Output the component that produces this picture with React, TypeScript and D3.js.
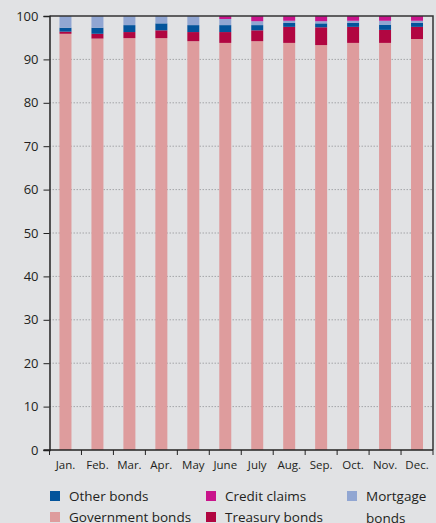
import React, { useEffect, useRef } from "react";
import * as d3 from "d3";

const months = ["Jan.", "Feb.", "Mar.", "Apr.", "May", "June", "July", "Aug.", "Sep.", "Oct.", "Nov.", "Dec."];
const governmentBonds = [95.9, 94.8, 94.9, 94.9, 94.2, 93.8, 94.2, 93.8, 93.3, 93.8, 93.8, 94.7];
const treasuryBonds = [0.5, 1.1, 1.4, 1.8, 2.1, 2.5, 2.5, 3.7, 4.1, 3.7, 3.0, 2.8];
const otherBonds = [0.9, 1.4, 1.6, 1.6, 1.6, 1.6, 1.2, 0.9, 0.9, 0.9, 1.2, 0.9];
const mortgageBonds = [2.7, 2.7, 2.1, 1.7, 2.1, 1.4, 0.9, 0.5, 0.5, 0.5, 0.9, 0.5];
const creditClaims = [0, 0, 0, 0, 0, 0.7, 1.2, 1.1, 1.2, 1.1, 1.1, 1.1];
const yTicks = [0, 10, 20, 30, 40, 50, 60, 70, 80, 90, 100];

const series = [
  { key: "gov", name: "Government bonds", values: governmentBonds, color: "#de9c9d" },
  { key: "treasury", name: "Treasury bonds", values: treasuryBonds, color: "#b10641" },
  { key: "other", name: "Other bonds", values: otherBonds, color: "#03549b" },
  { key: "mortgage", name: "Mortgage bonds", values: mortgageBonds, color: "#91a6d2" },
  { key: "credit", name: "Credit claims", values: creditClaims, color: "#c9148b" },
];

const W = 436;
const H = 523;
const margin = { left: 49.5, right: 3, top: 16, bottom: 73 };
const font = "'Open Sans', sans-serif";

const App = () => {
  const ref = useRef(null);

  useEffect(() => {
    const g = d3.select(ref.current);
    g.selectAll("*").remove();

    const x = d3
      .scaleBand()
      .domain(months)
      .range([margin.left, W - margin.right])
      .paddingInner(0.625)
      .paddingOuter(0.3125);
    const y = d3.scaleLinear().domain([0, 100]).range([H - margin.bottom, margin.top]);

    const rows = months.map((m, i) => {
      const r = { month: m };
      series.forEach((s) => (r[s.key] = s.values[i]));
      return r;
    });
    const stacked = d3.stack().keys(series.map((s) => s.key))(rows);

    // dotted gridlines
    g.append("g")
      .selectAll("line")
      .data(yTicks.filter((t) => t > 0 && t < 100))
      .join("line")
      .attr("x1", margin.left)
      .attr("x2", W - margin.right)
      .attr("y1", (d) => y(d))
      .attr("y2", (d) => y(d))
      .attr("stroke", "#a4a5a8")
      .attr("stroke-width", 1)
      .attr("stroke-dasharray", "1.5,1.5");

    // bars
    g.append("g")
      .selectAll("g")
      .data(stacked)
      .join("g")
      .attr("fill", (d, i) => series[i].color)
      .selectAll("rect")
      .data((d) => d)
      .join("rect")
      .attr("x", (d) => x(d.data.month))
      .attr("width", x.bandwidth())
      .attr("y", (d) => y(d[1]))
      .attr("height", (d) => Math.max(0, y(d[0]) - y(d[1])));

    // frame top / right
    g.append("path")
      .attr("d", `M${margin.left},${y(100)}H${W - margin.right}V${y(0)}`)
      .attr("fill", "none")
      .attr("stroke", "#333")
      .attr("stroke-width", 1.5);

    // y axis
    const yAxis = g
      .append("g")
      .attr("transform", `translate(${margin.left},0)`)
      .call(d3.axisLeft(y).tickValues(yTicks).tickSize(6).tickPadding(5));
    yAxis.select(".domain").attr("stroke", "#222").attr("stroke-width", 1.5);
    yAxis.selectAll(".tick line").attr("stroke", "#222");
    yAxis
      .selectAll(".tick text")
      .attr("font-family", font)
      .attr("font-size", 13)
      .attr("fill", "#231f20");

    // x axis
    const step = x.step();
    const bounds = d3.range(13).map((i) => margin.left + i * step);
    const xg = g.append("g");
    xg.append("line")
      .attr("x1", margin.left - 6)
      .attr("x2", W - margin.right)
      .attr("y1", y(0))
      .attr("y2", y(0))
      .attr("stroke", "#222")
      .attr("stroke-width", 1.5);
    xg.selectAll("line.tk")
      .data(bounds)
      .join("line")
      .attr("class", "tk")
      .attr("x1", (d) => d)
      .attr("x2", (d) => d)
      .attr("y1", y(0))
      .attr("y2", y(0) + 5)
      .attr("stroke", "#222");
    xg.selectAll("text")
      .data(months)
      .join("text")
      .attr("x", (d) => x(d) + x.bandwidth() / 2)
      .attr("y", y(0) + 19)
      .attr("text-anchor", "middle")
      .attr("font-family", font)
      .attr("font-size", 11.5)
      .attr("fill", "#231f20")
      .text((d) => d);

    // legend
    const legendItems = [
      { s: series[2], x: 50, y: 491 },
      { s: series[0], x: 50, y: 512 },
      { s: series[4], x: 206, y: 491 },
      { s: series[1], x: 206, y: 512 },
      { s: series[3], x: 347, y: 491 },
    ];
    const lg = g.append("g");
    legendItems.forEach((it) => {
      lg.append("rect")
        .attr("x", it.x)
        .attr("y", it.y)
        .attr("width", 10)
        .attr("height", 10)
        .attr("fill", it.s.color);
      const t = lg
        .append("text")
        .attr("x", it.x + 19)
        .attr("y", it.y + 10)
        .attr("font-family", font)
        .attr("font-size", 13.5)
        .attr("fill", "#231f20");
      if (it.s.key === "mortgage") {
        t.append("tspan").attr("x", it.x + 19).text("Mortgage");
        t.append("tspan").attr("x", it.x + 19).attr("dy", 22).text("bonds");
      } else {
        t.text(it.s.name);
      }
    });
  }, []);

  return (
    <svg
      width={W}
      height={H}
      style={{ position: "absolute", left: 0, top: 0, background: "#e1e2e4" }}
    >
      <g ref={ref} />
    </svg>
  );
};

export default App;
